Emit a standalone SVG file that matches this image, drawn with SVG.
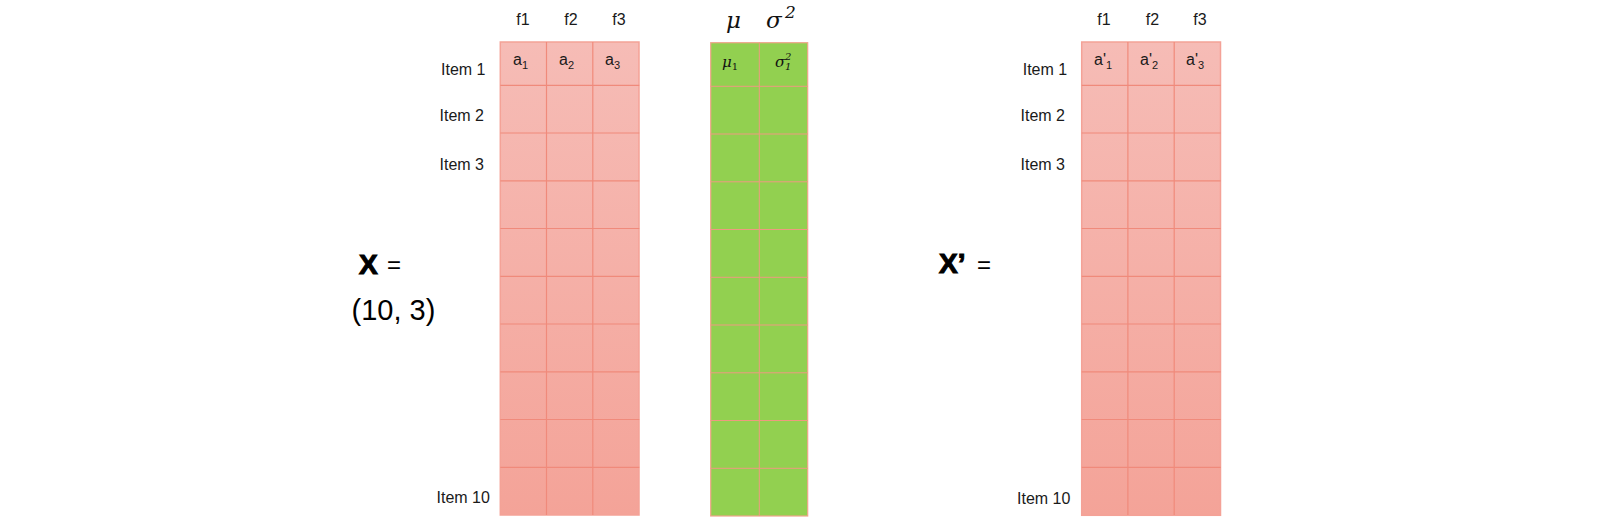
<svg xmlns="http://www.w3.org/2000/svg" width="1606" height="524" viewBox="0 0 1606 524">
<style>
.lbl{font-family:"Liberation Sans",Arial,sans-serif;font-size:16px;fill:#1a1a1a}
.hdr{font-family:"Liberation Sans",Arial,sans-serif;font-size:16px;fill:#1a1a1a;text-anchor:middle}
.cell{font-family:"Liberation Sans",Arial,sans-serif;font-size:16px;fill:#1a1a1a}
.sub{font-size:11px}
.math{font-family:"DejaVu Serif","Liberation Serif",serif;font-style:italic;fill:#111}
.big{font-family:"Liberation Sans",Arial,sans-serif;fill:#000}
.heavy{font-weight:bold;stroke:#000;stroke-width:1.1}
.grid{stroke:#f08a7b;stroke-width:1.2;fill:none}
.border{stroke:#f4a297;stroke-width:1.5}
.ggrid{stroke:#ee9a80;stroke-width:1;fill:none}
</style>
<defs>
<linearGradient id="pink" x1="0" y1="0" x2="0" y2="1">
<stop offset="0" stop-color="#f6bcb6"/>
<stop offset="1" stop-color="#f4a398"/>
</linearGradient>
<path id="pinkGrid" d="M46.2,0V473M92.5,0V473M0,43.3H139M0,91H139M0,138.8H139M0,186.5H139M0,234.3H139M0,282H139M0,329.8H139M0,377.5H139M0,425.3H139"/>
</defs>

<g id="matrix-x">
<rect class="border" x="500.3" y="42" width="138.7" height="473" fill="url(#pink)"/>
<use href="#pinkGrid" x="500.3" y="42" class="grid"/>
<text class="hdr" x="523" y="25">f1</text>
<text class="hdr" x="571" y="25">f2</text>
<text class="hdr" x="619" y="25">f3</text>
<text class="lbl" x="441" y="75">Item 1</text>
<text class="lbl" x="439.5" y="120.5">Item 2</text>
<text class="lbl" x="439.5" y="170">Item 3</text>
<text class="lbl" x="436.5" y="503">Item 10</text>
<text class="cell" x="513" y="65">a<tspan class="sub" dy="3.5">1</tspan></text>
<text class="cell" x="559" y="65">a<tspan class="sub" dy="3.5">2</tspan></text>
<text class="cell" x="605" y="65">a<tspan class="sub" dy="3.5">3</tspan></text>
</g>

<g id="label-x">
<text class="big heavy" x="359" y="274" font-size="28">X</text>
<text class="big" x="387" y="273" font-size="24">=</text>
<text class="big" x="351.5" y="320" font-size="29">(10, 3)</text>
</g>

<g id="stats">
<rect x="710.7" y="42.7" width="97" height="473.3" fill="#92d050" stroke="#f0a58a" stroke-width="1.2"/>
<path class="ggrid" d="M759.3,42.7V516M710.7,86.3H807.7M710.7,134H807.7M710.7,181.8H807.7M710.7,229.5H807.7M710.7,277.3H807.7M710.7,325H807.7M710.7,372.8H807.7M710.7,420.5H807.7M710.7,468.3H807.7"/>
<text class="math" x="726" y="28" font-size="23">μ</text>
<text class="math" x="766" y="28" font-size="23">σ</text>
<text class="math" x="785" y="18" font-size="17" font-style="normal">2</text>
<text class="math" x="722" y="66.5" font-size="15">μ<tspan font-size="10" font-style="normal" dy="3">1</tspan></text>
<text class="math" x="775" y="66.5" font-size="15">σ</text>
<text class="math" x="785" y="59.5" font-size="10" font-style="normal">2</text>
<text class="math" x="785" y="70" font-size="10" font-style="normal">1</text>
</g>

<g id="matrix-x-prime">
<rect class="border" x="1081.7" y="42" width="138.8" height="473.3" fill="url(#pink)"/>
<use href="#pinkGrid" x="1081.7" y="42" class="grid"/>
<text class="hdr" x="1104" y="25">f1</text>
<text class="hdr" x="1152.5" y="25">f2</text>
<text class="hdr" x="1200" y="25">f3</text>
<text class="lbl" x="1022.7" y="75">Item 1</text>
<text class="lbl" x="1020.5" y="120.5">Item 2</text>
<text class="lbl" x="1020.5" y="170">Item 3</text>
<text class="lbl" x="1017" y="504">Item 10</text>
<text class="cell" x="1094" y="65">a'<tspan class="sub" dy="3.5">1</tspan></text>
<text class="cell" x="1140" y="65">a'<tspan class="sub" dy="3.5">2</tspan></text>
<text class="cell" x="1186" y="65">a'<tspan class="sub" dy="3.5">3</tspan></text>
</g>

<g id="label-x-prime">
<text class="big heavy" x="939" y="273.3" font-size="28">X’</text>
<text class="big" x="977" y="273" font-size="24">=</text>
</g>
</svg>
